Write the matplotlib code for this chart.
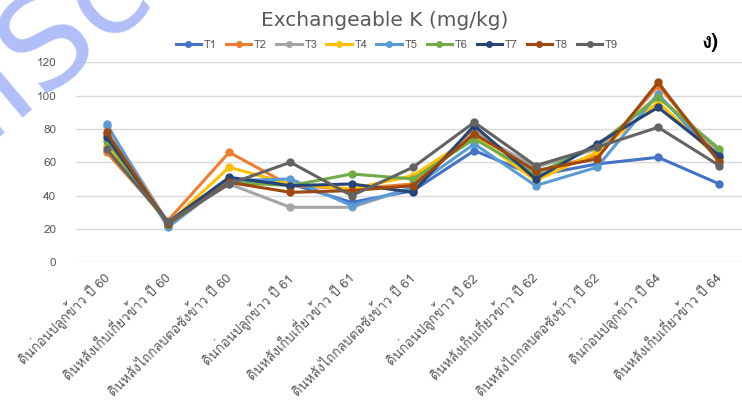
import numpy as np
import matplotlib
matplotlib.use('Agg')
import matplotlib.pyplot as plt
from matplotlib import font_manager as fm
from matplotlib.ft2font import FT2Font

# Look for any installed font that can draw Thai script
thai_family = None
for f in fm.fontManager.ttflist:
    try:
        if 0x0E14 in FT2Font(f.fname).get_charmap():
            thai_family = f.name
            break
    except Exception:
        pass
families = ['DejaVu Sans'] if thai_family is None else [thai_family, 'DejaVu Sans']
plt.rcParams['font.family'] = families

#%% Data: exchangeable K (mg/kg) per sampling time
categories = ['ดินก่อนปลูกข้าว ปี 60', 'ดินหลังเก็บเกี่ยวข้าว ปี 60', 'ดินหลังไถกลบตอซังข้าว ปี 60',
              'ดินก่อนปลูกข้าว ปี 61', 'ดินหลังเก็บเกี่ยวข้าว ปี 61', 'ดินหลังไถกลบตอซังข้าว ปี 61',
              'ดินก่อนปลูกข้าว ปี 62', 'ดินหลังเก็บเกี่ยวข้าว ปี 62', 'ดินหลังไถกลบตอซังข้าว ปี 62',
              'ดินก่อนปลูกข้าว ปี 64', 'ดินหลังเก็บเกี่ยวข้าว ปี 64']
T1 = [77, 22, 50, 47, 36, 43, 67, 52, 59, 63, 47]
T2 = [66, 25, 66, 46, 44, 47, 79, 54, 64, 106, 63]
T3 = [82, 24, 47, 33, 33, 45, 78, 57, 68, 100, 66]
T4 = [70, 23, 57, 47, 44, 52, 76, 49, 66, 96, 62]
T5 = [83, 21, 49, 50, 34, 45, 71, 46, 57, 101, 61]
T6 = [73, 23, 48, 46, 53, 50, 74, 53, 70, 99, 68]
T7 = [75, 24, 51, 46, 47, 42, 82, 50, 71, 93, 64]
T8 = [78, 23, 48, 42, 43, 46, 77, 55, 62, 108, 60]
T9 = [68, 24, 47, 60, 40, 57, 84, 58, 69, 81, 58]
series = {'T1': T1, 'T2': T2, 'T3': T3, 'T4': T4, 'T5': T5,
          'T6': T6, 'T7': T7, 'T8': T8, 'T9': T9}
colors = ['#4472C4', '#ED7D31', '#A5A5A5', '#FFC000', '#5B9BD5',
          '#70AD47', '#264478', '#9E480E', '#636363']

#%% Plot
fig = plt.figure(figsize=(7.42, 4.05), dpi=100)
ax = fig.add_axes([0.1024, 0.3523, 0.9084, 0.4939])
x = np.arange(len(categories))
for (name, vals), c in zip(series.items(), colors):
    ax.plot(x, vals, color=c, lw=2.2, marker='o', ms=5, label=name)

ax.set_xlim(-0.5, len(categories) - 0.5)
ax.set_ylim(0, 120)
ax.set_yticks(np.arange(0, 121, 20))
ax.grid(axis='y', color='#D9D9D9', lw=1)
ax.set_axisbelow(True)
for s in ax.spines.values():
    s.set_visible(False)
ax.tick_params(length=0, colors='#595959', labelsize=8.5)
ax.tick_params(axis='y', pad=14)
ax.tick_params(axis='x', pad=9)
ax.set_xticks(x)
ax.set_xticklabels(categories, rotation=45, ha='right', va='center',
                   rotation_mode='anchor', fontsize=9.5)

fig.text(0.519, 0.95, 'Exchangeable K (mg/kg)', ha='center', va='center',
         fontsize=14.5, color='#595959', family='DejaVu Sans')
ax.legend(loc='center', bbox_to_anchor=(0.535, 0.889), bbox_transform=fig.transFigure,
          ncol=9, frameon=False, fontsize=8, handlelength=2.3, handletextpad=0.25,
          columnspacing=0.8, labelcolor='#595959', markerscale=0.8)
fig.text(0.957, 0.895, 'ง)', ha='center', va='center', fontsize=15,
         fontweight='bold', color='black')

# faint watermark across the top-left corner
fig.text(-0.150, 0.595, 'aISc', fontsize=92, color='#a4b3f7', alpha=0.85,
         rotation=40, ha='left', va='baseline', zorder=10, family='DejaVu Sans')

fig.savefig('out.png', dpi=100)
